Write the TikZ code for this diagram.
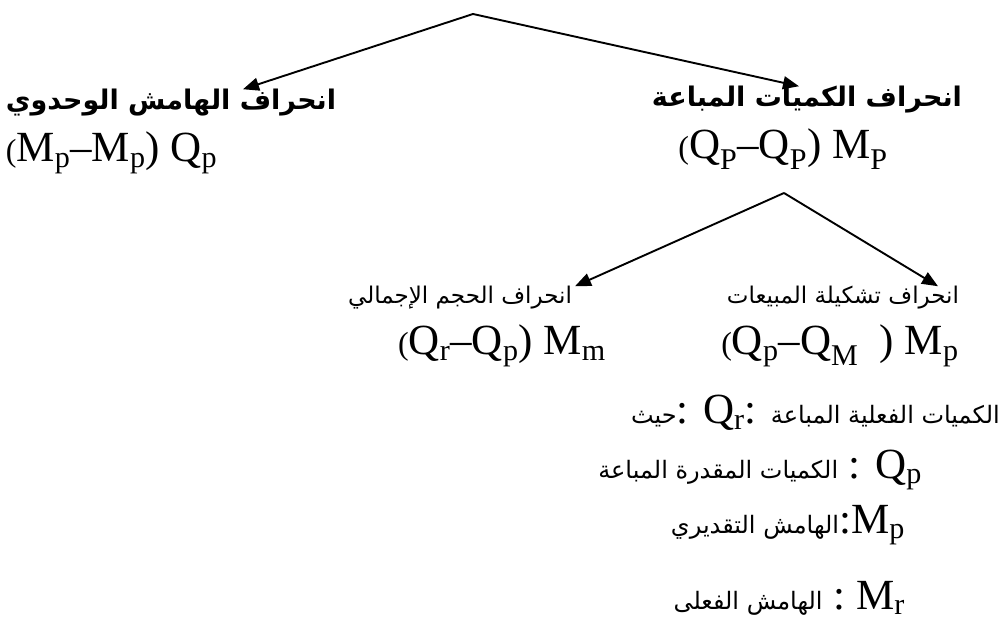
\documentclass[tikz,border=0pt]{standalone}
\usepackage{fontspec}
\setmainfont{Liberation Serif}
\newfontfamily\arabicfont[Script=Arabic]{DejaVu Sans}
\TeXXeTstate=1
\usetikzlibrary{arrows.meta,positioning}

\newcommand\idx[1]{\textsubscript{#1}}
\newcommand\smpar{{\fontsize{32}{32}\selectfont(}}
\newcommand\ar[1]{{\arabicfont\fontsize{24}{28}\selectfont\beginR #1\endR}}

\begin{document}
\begin{tikzpicture}[x=1pt,y=-1pt,
  headbold/.style={inner sep=0pt,font=\arabicfont\bfseries\fontsize{27}{31}\selectfont},
  headreg/.style ={inner sep=0pt,font=\arabicfont\fontsize{23}{27}\selectfont},
  formula/.style ={inner sep=0pt,font=\fontsize{43}{47}\selectfont},
  legend/.style  ={inner sep=0pt,anchor=east,font=\fontsize{43}{47}\selectfont},
  arr/.style     ={-{Triangle[length=16pt,width=13pt]},line width=1.9pt},
  node distance=15pt,
]
\useasboundingbox (0,0) rectangle (1005,631);

% first level
\coordinate (top) at (473,14);
\node[headbold] (unitvar) at (171,103) {\beginR انحراف الهامش الوحدوي\endR};
\node[formula, below=of unitvar.south west, anchor=north west] (unitf)
  {\smpar M\idx{p}--M\idx{p}) Q\idx{p}};
\node[headbold] (qtyvar) at (807,100) {\beginR انحراف الكميات المباعة\endR};
\node[formula, below=of qtyvar, xshift=-24pt] (qtyf)
  {\smpar Q\idx{P}--Q\idx{P}) M\idx{P}};

\draw[arr] (top) -- ([xshift=72pt]unitvar.north);
\draw[arr] (top) -- ([xshift=-8pt]qtyvar.north);

% second level
\coordinate (split) at (784,193);
\node[headreg] (volvar) at (460,298) {\beginR انحراف الحجم الإجمالي\endR};
\node[formula, below=of volvar, xshift=42pt] (volf)
  {\smpar Q\idx{r}--Q\idx{p}) M\idx{m}};
\node[headreg] (mixvar) at (843,298) {\beginR انحراف تشكيلة المبيعات\endR};
\node[formula, below=of mixvar, xshift=-3pt] (mixf)
  {\smpar Q\idx{p}--Q\idx{M}\ \ ) M\idx{p}};

\draw[arr] (split) -- ([xshift=115pt]volvar.north);
\draw[arr] (split) -- ([xshift=95pt]mixvar.north);

% legend
\node[legend] (leg1) at (1000,413) {\ar{حيث}: Q\idx{r}: \ar{الكميات الفعلية المباعة}};
\node[legend] (leg2) at (922,470) {\ar{الكميات المقدرة المباعة} : Q\idx{p}};
\node[legend] (leg3) at (905,525) {\ar{الهامش التقديري}:M\idx{p}};
\node[legend] (leg4) at (905,598) {\ar{الهامش الفعلى} :\ M\idx{r}};
\end{tikzpicture}
\end{document}
